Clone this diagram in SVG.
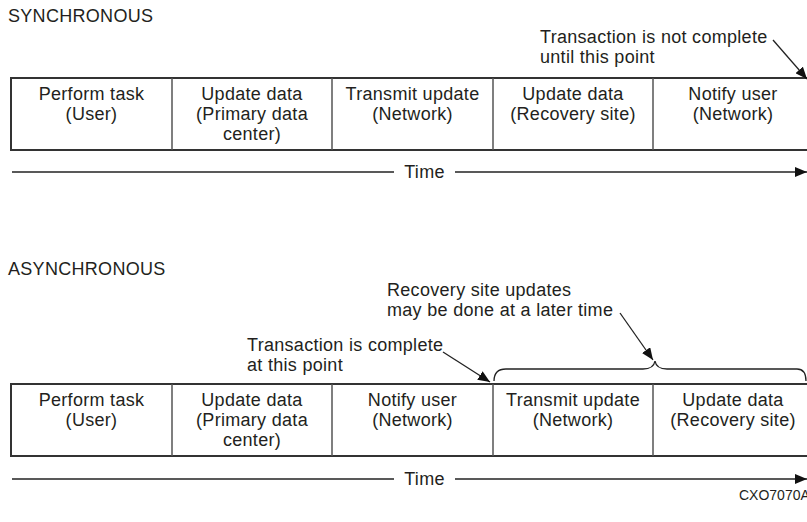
<svg xmlns="http://www.w3.org/2000/svg" width="807" height="522" viewBox="0 0 807 522">
<style>
text{font-family:"Liberation Sans",Arial,sans-serif;font-size:18px;fill:#231f20;letter-spacing:0.3px}
.c{text-anchor:middle}
.box{fill:none;stroke:#333;stroke-width:2}
.div{stroke:#555;stroke-width:1.5}
.ln{stroke:#222;stroke-width:1.3;fill:none}
.small{font-size:14px;letter-spacing:0}
</style>
<defs>
<marker id="ah" markerUnits="userSpaceOnUse" markerWidth="14" markerHeight="10" refX="12" refY="5" orient="auto">
<path d="M0,0 L12,5 L0,10 Z" fill="#111"/>
</marker>
</defs>

<text x="8" y="22">SYNCHRONOUS</text>
<text x="540" y="43">Transaction is not complete</text>
<text x="540" y="63">until this point</text>

<g id="sync-table">
<rect class="box" x="11" y="78" width="803" height="72"/>
<line class="div" x1="172" y1="78" x2="172" y2="150"/>
<line class="div" x1="332" y1="78" x2="332" y2="150"/>
<line class="div" x1="493" y1="78" x2="493" y2="150"/>
<line class="div" x1="653" y1="78" x2="653" y2="150"/>
</g>
<g id="s1"><text class="c" x="91.5" y="100">Perform task</text><text class="c" x="91.5" y="120">(User)</text></g>
<g id="s2"><text class="c" x="252" y="100">Update data</text><text class="c" x="252" y="120">(Primary data</text><text class="c" x="252" y="140">center)</text></g>
<g id="s3"><text class="c" x="412.5" y="100">Transmit update</text><text class="c" x="412.5" y="120">(Network)</text></g>
<g id="s4"><text class="c" x="573" y="100">Update data</text><text class="c" x="573" y="120">(Recovery site)</text></g>
<g id="s5"><text class="c" x="733" y="100">Notify user</text><text class="c" x="733" y="120">(Network)</text></g>
<text class="c" x="424.5" y="178">Time</text>

<text x="8" y="275">ASYNCHRONOUS</text>
<text x="387" y="296">Recovery site updates</text>
<text x="387" y="316">may be done at a later time</text>
<text x="247" y="351">Transaction is complete</text>
<text x="247" y="371">at this point</text>

<g id="async-table">
<rect class="box" x="11" y="384" width="803" height="72"/>
<line class="div" x1="172" y1="384" x2="172" y2="456"/>
<line class="div" x1="332" y1="384" x2="332" y2="456"/>
<line class="div" x1="493" y1="384" x2="493" y2="456"/>
<line class="div" x1="653" y1="384" x2="653" y2="456"/>
</g>
<g id="a1"><text class="c" x="91.5" y="406">Perform task</text><text class="c" x="91.5" y="426">(User)</text></g>
<g id="a2"><text class="c" x="252" y="406">Update data</text><text class="c" x="252" y="426">(Primary data</text><text class="c" x="252" y="446">center)</text></g>
<g id="a3"><text class="c" x="412.5" y="406">Notify user</text><text class="c" x="412.5" y="426">(Network)</text></g>
<g id="a4"><text class="c" x="573" y="406">Transmit update</text><text class="c" x="573" y="426">(Network)</text></g>
<g id="a5"><text class="c" x="733" y="406">Update data</text><text class="c" x="733" y="426">(Recovery site)</text></g>
<text class="c" x="424.5" y="485">Time</text>

<text class="small" x="739" y="500">CXO7070A</text>

<g id="connectors">
<line class="ln" x1="12" y1="172" x2="394" y2="172"/>
<line class="ln" x1="455" y1="172" x2="807" y2="172" marker-end="url(#ah)"/>
<line class="ln" x1="773" y1="40" x2="807" y2="79" marker-end="url(#ah)"/>
<line class="ln" x1="12" y1="479" x2="394" y2="479"/>
<line class="ln" x1="455" y1="479" x2="807" y2="479" marker-end="url(#ah)"/>
<line class="ln" x1="443" y1="352" x2="490" y2="382" marker-end="url(#ah)"/>
<line class="ln" x1="620" y1="313" x2="653" y2="360" marker-end="url(#ah)"/>
<path class="ln" d="M494,381 C494,373 498,369 506,369 L643,369 C650,369 654,367 655,361 C656,367 660,369 667,369 L797,369 C803,369 806,373 806,381"/>
</g>
</svg>
